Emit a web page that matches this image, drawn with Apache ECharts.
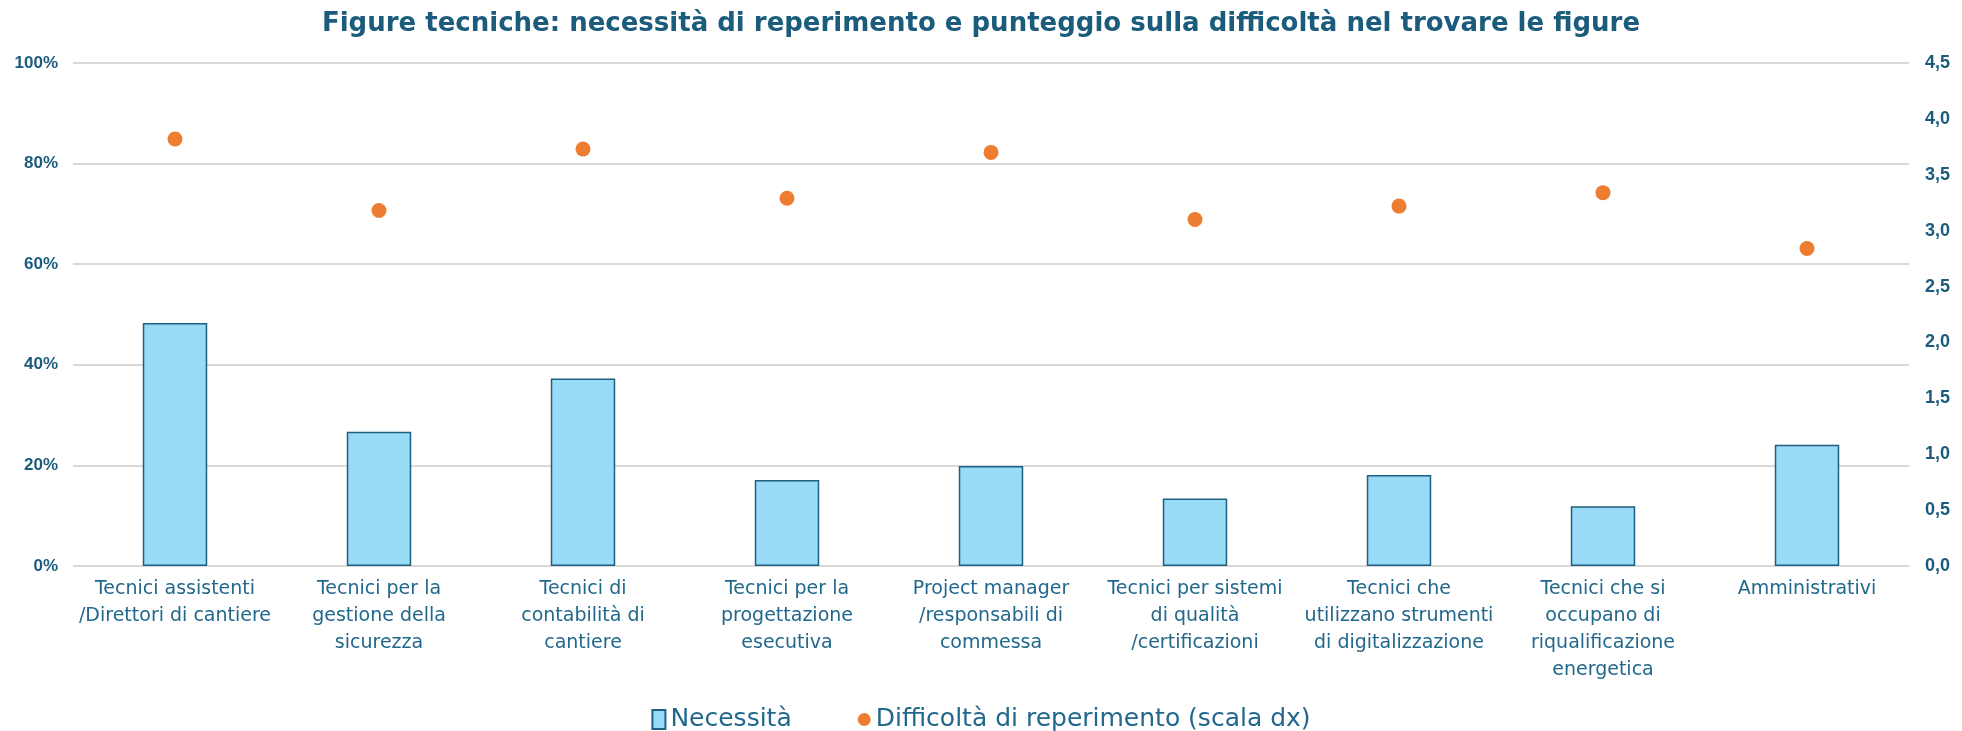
<!DOCTYPE html>
<html>
<head>
<meta charset="utf-8">
<title>Figure tecniche</title>
<script src="https://cdn.jsdelivr.net/npm/echarts@6/dist/echarts.min.js"></script>
<style>
  html, body { margin: 0; padding: 0; background: #fff; }
  #chart { width: 1962px; height: 731px; }
</style>
</head>
<body>
<div id="chart"></div>
<script>
// categorie (a capo come nel grafico originale)
var categorie = [
  "Tecnici assistenti\n/Direttori di cantiere",
  "Tecnici per la\ngestione della\nsicurezza",
  "Tecnici di\ncontabilità di\ncantiere",
  "Tecnici per la\nprogettazione\nesecutiva",
  "Project manager\n/responsabili di\ncommessa",
  "Tecnici per sistemi\ndi qualità\n/certificazioni",
  "Tecnici che\nutilizzano strumenti\ndi digitalizzazione",
  "Tecnici che si\noccupano di\nriqualificazione\nenergetica",
  "Amministrativi"
];
// necessità (quota, scala sx)
var necessita = [0.483, 0.267, 0.373, 0.171, 0.199, 0.134, 0.181, 0.119, 0.241];
// difficoltà di reperimento (punteggio, scala dx)
var difficolta = [3.82, 3.18, 3.73, 3.29, 3.70, 3.10, 3.22, 3.34, 2.84];

var nomeBar = "Necessità";
var nomeDot = "Difficoltà di reperimento (scala dx)";

var chart = echarts.init(document.getElementById("chart"));

var option = {
  animation: false,
  title: {
    text: "Figure tecniche: necessità di reperimento e punteggio sulla difficoltà nel trovare le figure",
    left: "center",
    top: 6,
    textStyle: {
      fontFamily: "DejaVu Sans",
      fontWeight: "bold",
      fontSize: 26,
      color: "#1b5b7b"
    }
  },
  legend: {
    top: 702,
    left: "center",
    itemWidth: 13,
    itemHeight: 19,
    itemGap: 66,
    textStyle: {
      fontFamily: "DejaVu Sans",
      fontSize: 25,
      color: "#22688c"
    },
    data: [
      { name: nomeBar, icon: "rect" },
      { name: nomeDot, icon: "circle" }
    ]
  },
  grid: {
    left: 73,
    right: 53,
    top: 63,
    bottom: 165
  },
  xAxis: {
    type: "category",
    data: categorie,
    axisLine: { show: false },
    axisTick: { show: false },
    axisLabel: {
      interval: 0,
      margin: 10,
      fontFamily: "DejaVu Sans",
      fontSize: 19,
      lineHeight: 27,
      color: "#22688c"
    }
  },
  yAxis: [
    {
      type: "value",
      min: 0,
      max: 1,
      interval: 0.2,
      axisLine: { show: false },
      axisTick: { show: false },
      splitLine: { lineStyle: { color: "#d9d9d9", width: 2 } },
      axisLabel: {
        margin: 15,
        fontFamily: "Liberation Sans",
        fontWeight: "bold",
        fontSize: 17,
        color: "#1b5b7b",
        formatter: function (v) { return Math.round(v * 100) + "%"; }
      }
    },
    {
      type: "value",
      min: 0,
      max: 4.5,
      interval: 0.5,
      axisLine: { show: false },
      axisTick: { show: false },
      splitLine: { show: false },
      axisLabel: {
        margin: 16,
        fontFamily: "Liberation Sans",
        fontWeight: "bold",
        fontSize: 18,
        color: "#1b5b7b",
        formatter: function (v) { return v.toFixed(1).replace(".", ","); }
      }
    }
  ],
  series: [
    {
      name: nomeBar,
      type: "bar",
      yAxisIndex: 0,
      barWidth: "31.6%",
      itemStyle: {
        color: "#97dbf7",
        borderColor: "#1f5f80",
        borderWidth: 1.5
      },
      data: necessita
    },
    {
      name: nomeDot,
      type: "scatter",
      yAxisIndex: 1,
      symbol: "circle",
      symbolSize: 15,
      itemStyle: { color: "#ed7d31", opacity: 1 },
      data: difficolta
    }
  ]
};

chart.setOption(option);
</script>
</body>
</html>
